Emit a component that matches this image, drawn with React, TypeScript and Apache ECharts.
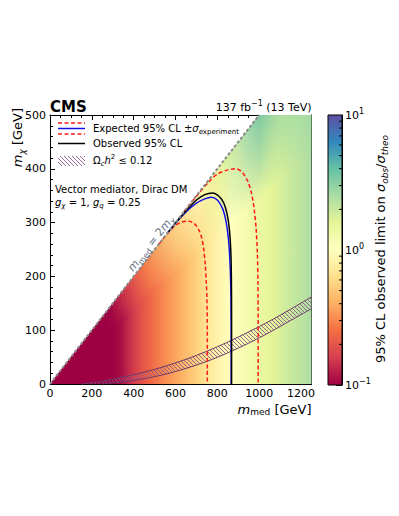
import React, { useEffect, useRef } from 'react';
import * as echarts from 'echarts';

// ---------------- data ----------------
const xMinGeV = 0;
const xMaxGeV = 1250;
const yMinGeV = 0;
const yMaxGeV = 500;
const xMajorStep = 200;
const xMinorStep = 50;
const yMajorStep = 100;
const yMinorStep = 20;

// observed limit (sigma_obs/sigma_theo) read along low m_chi, as function of m_med
const heatMedGeV = [0, 300, 340, 380, 420, 475, 555, 630, 700, 760, 810, 868, 930, 990, 1060, 1120, 1190, 1250];
const heatMuLowMchi = [0.08, 0.1, 0.11, 0.14, 0.175, 0.23, 0.32, 0.42, 0.55, 0.72, 0.85, 1.0, 1.18, 1.38, 1.6, 1.85, 2.15, 2.5];
// limit read close to the kinematic edge m_med = 2 m_chi
const diagMedGeV = [0, 280, 350, 400, 450, 500, 600, 700, 800, 900, 1000, 1100, 1250];
const diagMuNearEdge = [0.08, 0.1, 0.16, 0.22, 0.3, 0.4, 0.68, 1.05, 1.6, 2.4, 4.2, 3.0, 3.0];

const heatRegion = [[0, 0], [1000, 500], [1250, 500], [1250, 0]];
const kinematicEdge = [[0, 0], [1000, 500]];

const observedContour = [
  [560, 280], [600, 299], [650, 322], [700, 342], [740, 352], [778, 355], [805, 350], [830, 337],
  [848, 313], [858, 285], [864, 250], [867, 200], [868, 120], [868, 0],
];
const expectedContour = [
  [560, 280], [600, 299], [650, 320], [700, 336], [740, 344], [770, 347], [800, 342], [825, 326],
  [840, 305], [850, 280], [857, 250], [862, 210], [865, 160], [866, 80], [866, 0],
];
const expectedOuterContour = [
  [640, 320], [700, 349], [760, 376], [800, 390], [850, 398], [890, 400], [920, 393], [945, 377],
  [963, 355], [976, 325], [985, 290], [991, 245], [994, 190], [995, 100], [995, 0],
];
const expectedInnerContour = [
  [520, 260], [560, 279], [600, 295], [630, 301], [660, 303], [690, 298], [712, 286], [725, 272],
  [735, 250], [742, 222], [747, 190], [750, 160], [752, 100], [752, 0],
];
const relicUpperEdge = [
  [150, 0], [250, 5], [350, 13], [450, 22], [550, 33], [650, 46], [750, 61], [850, 78], [950, 97],
  [1050, 117], [1150, 139], [1250, 162],
];
const relicLowerEdge = [
  [250, 0], [350, 4], [450, 10], [550, 18], [650, 29], [750, 42], [850, 58], [950, 76], [1050, 96],
  [1150, 118], [1250, 140],
];

const cbarMin = 0.1;
const cbarMax = 10;
const cbarMinorTicks = [0.2, 0.3, 0.4, 0.5, 0.6, 0.7, 0.8, 0.9, 2, 3, 4, 5, 6, 7, 8, 9];

// ---------------- styling ----------------
const FONT = 'DejaVu Sans';
const SPECTRAL = ['#9e0142', '#d53e4f', '#f46d43', '#fdae61', '#fee08b', '#ffffbf', '#e6f598', '#abdda4', '#66c2a5', '#3288bd', '#5e4fa2'];
const EDGE_BANDS = 20;
const edgeBandFractions = Array.from({ length: EDGE_BANDS }, (_v, k) => 1 - 0.3 * Math.pow(1 - k / EDGE_BANDS, 1.6));

function hexToRgb(h: string) {
  return [parseInt(h.slice(1, 3), 16), parseInt(h.slice(3, 5), 16), parseInt(h.slice(5, 7), 16)];
}
function muToColor(mu: number) {
  const lo = Math.log10(cbarMin);
  const hi = Math.log10(cbarMax);
  const t = Math.min(1, Math.max(0, (Math.log10(mu) - lo) / (hi - lo)));
  const s = t * (SPECTRAL.length - 1);
  const i = Math.min(SPECTRAL.length - 2, Math.floor(s));
  const f = s - i;
  const a = hexToRgb(SPECTRAL[i]);
  const b = hexToRgb(SPECTRAL[i + 1]);
  const c = a.map((v, k) => Math.round(v + (b[k] - v) * f));
  return `rgb(${c[0]},${c[1]},${c[2]})`;
}

const hatchSvg =
  '<svg xmlns="http://www.w3.org/2000/svg" width="4" height="4"><path d="M-1,-1 L5,5 M-1,3 L1,5 M3,-1 L5,1" stroke="#8a588a" stroke-width="0.9"/></svg>';
const hatchPattern: any = {
  image: 'data:image/svg+xml;charset=utf-8,' + encodeURIComponent(hatchSvg),
  repeat: 'repeat',
  imageWidth: 4,
  imageHeight: 4,
};

const rt = (size: number, extra: any = {}) => ({ fontSize: size, fontFamily: FONT, fill: '#000', color: '#000', ...extra });

function textEl(x: number, y: number, text: string, size: number, rich: any, opts: any = {}) {
  const align = opts.align || 'left';
  return {
    type: 'text',
    x,
    y,
    rotation: opts.rotation || 0,
    z: 100,
    style: {
      text,
      fontSize: size,
      fontFamily: FONT,
      fontWeight: opts.bold ? 'bold' : 'normal',
      fill: opts.color || '#000',
      lineHeight: opts.lineHeight || Math.round(size * 1.35),
      align,
      textAlign: align,
      verticalAlign: 'middle',
      textVerticalAlign: 'middle',
      rich,
    },
  };
}

const plotGrid = { left: 50, top: 115, width: 261.5, height: 269 };
const cbarGrid = { left: 328, top: 115, width: 14, height: 270 };

function mkX(gridIndex: number, position: string, interval: number, tickLen: number, showLine: boolean, showLabel: boolean) {
  return {
    gridIndex,
    type: 'value',
    min: xMinGeV,
    max: xMaxGeV,
    interval,
    position,
    axisLine: { show: showLine, onZero: false, lineStyle: { color: '#000', width: 1 } },
    axisTick: { show: true, inside: true, length: tickLen, lineStyle: { color: '#000', width: 1 } },
    axisLabel: {
      show: showLabel,
      margin: 4,
      color: '#000',
      fontSize: 11,
      fontFamily: FONT,
      formatter: (v: number) => (v % xMajorStep === 0 ? String(v) : ''),
    },
    splitLine: { show: false },
  };
}
function mkY(gridIndex: number, position: string, interval: number, tickLen: number, showLine: boolean, showLabel: boolean) {
  return {
    gridIndex,
    type: 'value',
    min: yMinGeV,
    max: yMaxGeV,
    interval,
    position,
    axisLine: { show: showLine, onZero: false, lineStyle: { color: '#000', width: 1 } },
    axisTick: { show: true, inside: true, length: tickLen, lineStyle: { color: '#000', width: 1 } },
    axisLabel: { show: showLabel, margin: 4, color: '#000', fontSize: 11, fontFamily: FONT },
    splitLine: { show: false },
  };
}

function gradientStops(meds: number[], mus: number[]) {
  return meds.map((m, i) => ({ offset: (m - xMinGeV) / (xMaxGeV - xMinGeV), color: muToColor(mus[i]) }));
}

function lineSeries(name: string, data: number[][], color: string, width: number, type: any) {
  return {
    name,
    type: 'line',
    xAxisIndex: 0,
    yAxisIndex: 0,
    data,
    symbol: 'none',
    showSymbol: false,
    smooth: 0.3,
    lineStyle: { color, width, type },
    z: 5,
    silent: true,
  };
}

function buildOption(): any {
  return {
    animation: false,
    backgroundColor: '#fff',
    grid: [plotGrid, plotGrid, plotGrid, plotGrid, cbarGrid],
    xAxis: [
      mkX(0, 'bottom', xMajorStep, 5, true, true),
      mkX(1, 'bottom', xMinorStep, 3, false, false),
      mkX(2, 'top', xMajorStep, 5, true, false),
      mkX(3, 'top', xMinorStep, 3, false, false),
      { gridIndex: 4, type: 'value', min: 0, max: 1, show: false },
    ],
    yAxis: [
      mkY(0, 'left', yMajorStep, 5, true, true),
      mkY(1, 'left', yMinorStep, 3, false, false),
      mkY(2, 'right', yMajorStep, 5, true, false),
      mkY(3, 'right', yMinorStep, 3, false, false),
      {
        gridIndex: 4,
        type: 'log',
        logBase: 10,
        min: cbarMin,
        max: cbarMax,
        position: 'right',
        axisLine: { show: true, onZero: false, lineStyle: { color: '#000', width: 1 } },
        axisTick: { show: true, inside: true, length: 6, lineStyle: { color: '#000' } },
        splitLine: { show: false },
        axisLabel: {
          margin: 3,
          formatter: (v: number) => `{b|10}{s|${Math.round(Math.log10(v)) < 0 ? '−' : ''}${Math.abs(Math.round(Math.log10(v)))}}`,
          rich: {
            b: { fontSize: 11, fontFamily: FONT, color: '#000', lineHeight: 16 },
            s: { fontSize: 8, fontFamily: FONT, color: '#000', lineHeight: 16, verticalAlign: 'top' },
          },
        },
      },
    ],
    series: [
      {
        type: 'custom',
        name: 'limit map',
        xAxisIndex: 0,
        yAxisIndex: 0,
        data: [[0, 0]],
        silent: true,
        z: 1,
        renderItem: (_p: any, api: any) => {
          const x0 = api.coord([xMinGeV, 0])[0];
          const x1 = api.coord([xMaxGeV, 0])[0];
          return {
            type: 'polygon',
            shape: { points: heatRegion.map((p) => api.coord(p)) },
            style: { fill: new echarts.graphic.LinearGradient(x0, 0, x1, 0, gradientStops(heatMedGeV, heatMuLowMchi), true) },
          };
        },
      },
      {
        type: 'custom',
        name: 'limit near edge',
        xAxisIndex: 0,
        yAxisIndex: 0,
        data: edgeBandFractions.map((f) => [0, f]),
        silent: true,
        z: 1,
        renderItem: (params: any, api: any) => {
          const f = edgeBandFractions[params.dataIndex];
          const pts: number[][] = [[0, 0], [1000, 500]];
          if (f <= 0.8) {
            pts.push([1250, 500], [1250, 625 * f]);
          } else {
            pts.push([1000 / f, 500]);
          }
          const x0 = api.coord([xMinGeV, 0])[0];
          const x1 = api.coord([xMaxGeV, 0])[0];
          return {
            type: 'polygon',
            shape: { points: pts.map((p) => api.coord(p)) },
            style: {
              fill: new echarts.graphic.LinearGradient(x0, 0, x1, 0, gradientStops(diagMedGeV, diagMuNearEdge), true),
              opacity: 0.08,
            },
          };
        },
      },
      {
        type: 'custom',
        name: 'relic band',
        xAxisIndex: 0,
        yAxisIndex: 0,
        data: [[0, 0]],
        silent: true,
        z: 3,
        renderItem: (_p: any, api: any) => ({
          type: 'polygon',
          shape: { points: relicUpperEdge.concat(relicLowerEdge.slice().reverse()).map((p) => api.coord(p)) },
          style: { fill: hatchPattern, stroke: 'none' },
        }),
      },
      lineSeries('relic upper', relicUpperEdge, '#6b3c6b', 1, 'solid'),
      lineSeries('relic lower', relicLowerEdge, '#6b3c6b', 1, 'solid'),
      lineSeries('expected +1σ', expectedOuterContour, '#ff1a1a', 1.5, [4, 2.5]),
      lineSeries('expected −1σ', expectedInnerContour, '#ff1a1a', 1.5, [4, 2.5]),
      lineSeries('expected', expectedContour, '#1010ee', 1.5, 'solid'),
      lineSeries('observed', observedContour, '#000000', 1.5, 'solid'),
      {
        ...lineSeries('kinematic edge', kinematicEdge, '#8a8a8a', 2, [3, 2]),
        smooth: false,
        z: 6,
      },
      {
        type: 'custom',
        name: 'colorbar',
        xAxisIndex: 4,
        yAxisIndex: 4,
        data: [[0, 1]],
        silent: true,
        renderItem: (_p: any, api: any) => {
          const tl = api.coord([0, cbarMax]);
          const br = api.coord([1, cbarMin]);
          return {
            type: 'rect',
            shape: { x: tl[0], y: tl[1], width: br[0] - tl[0], height: br[1] - tl[1] },
            style: {
              fill: new echarts.graphic.LinearGradient(
                0, 0, 0, 1,
                SPECTRAL.map((_c, i) => ({ offset: i / (SPECTRAL.length - 1), color: SPECTRAL[SPECTRAL.length - 1 - i] })),
              ),
              stroke: '#000',
              lineWidth: 1,
            },
          };
        },
      },
      {
        type: 'custom',
        name: 'colorbar minor ticks',
        xAxisIndex: 4,
        yAxisIndex: 4,
        data: cbarMinorTicks.map((v) => [1, v]),
        silent: true,
        z: 4,
        renderItem: (_p: any, api: any) => {
          const p = api.coord([1, api.value(1)]);
          return {
            type: 'line',
            shape: { x1: p[0] - 3, y1: p[1], x2: p[0], y2: p[1] },
            style: { stroke: '#000', lineWidth: 1 },
          };
        },
      },
    ],
    graphic: [
      textEl(50, 106.5, 'CMS', 15, {}, { bold: true }),
      textEl(311.5, 107, '137 fb{sup|−1} (13 TeV)', 11, { sup: rt(8, { verticalAlign: 'top' }) }, { align: 'right', lineHeight: 15 }),
      textEl(17, 108, '{i|m}{s|χ} [GeV]', 13, {
        i: rt(13, { fontStyle: 'italic' }),
        s: rt(9, { fontStyle: 'italic', verticalAlign: 'bottom' }),
      }, { align: 'right', rotation: Math.PI / 2, lineHeight: 18 }),
      textEl(311.5, 409, '{i|m}{s|med} [GeV]', 13, {
        i: rt(13, { fontStyle: 'italic' }),
        s: rt(9, { verticalAlign: 'bottom' }),
      }, { align: 'right', lineHeight: 15 }),
      textEl(380, 249, '95% CL observed limit on {i|σ}{s|obs}/{i|σ}{s|theo}', 13, {
        i: rt(13, { fontStyle: 'italic' }),
        s: rt(9, { fontStyle: 'italic', verticalAlign: 'bottom' }),
      }, { align: 'center', rotation: Math.PI / 2, lineHeight: 18 }),
      textEl(151, 243.5, '{i|m}{s|med} = 2{i|m}{is|χ}', 11, {
        i: rt(11, { fontStyle: 'italic', fill: '#5f6f80' }),
        s: rt(8, { verticalAlign: 'bottom', fill: '#5f6f80' }),
        is: rt(8, { fontStyle: 'italic', verticalAlign: 'bottom', fill: '#5f6f80' }),
      }, { align: 'center', rotation: (52 * Math.PI) / 180, color: '#5f6f80', lineHeight: 15 }),
      // legend symbols
      { type: 'line', z: 100, shape: { x1: 58, y1: 123, x2: 85, y2: 123 }, style: { stroke: '#ff1a1a', lineWidth: 1.5, lineDash: [4, 2.5] } },
      { type: 'line', z: 100, shape: { x1: 58, y1: 128.5, x2: 85, y2: 128.5 }, style: { stroke: '#1010ee', lineWidth: 1.5 } },
      { type: 'line', z: 100, shape: { x1: 58, y1: 134, x2: 85, y2: 134 }, style: { stroke: '#ff1a1a', lineWidth: 1.5, lineDash: [4, 2.5] } },
      { type: 'line', z: 100, shape: { x1: 58, y1: 143.5, x2: 85, y2: 143.5 }, style: { stroke: '#000', lineWidth: 1.5 } },
      { type: 'rect', z: 100, shape: { x: 58, y: 156, width: 27, height: 10 }, style: { fill: hatchPattern } },
      textEl(93, 128.5, 'Expected 95% CL ±{i|σ}{s|experiment}', 10, {
        i: rt(10, { fontStyle: 'italic' }),
        s: rt(7, { verticalAlign: 'bottom' }),
      }, { lineHeight: 14 }),
      textEl(93, 143.5, 'Observed 95% CL', 10, {}, {}),
      textEl(93, 160, '{u|Ω}{is|c}{i|h}{sup|2} ≤ 0.12', 10, {
        u: rt(10),
        i: rt(10, { fontStyle: 'italic' }),
        is: rt(7, { fontStyle: 'italic', verticalAlign: 'bottom' }),
        sup: rt(7, { verticalAlign: 'top' }),
      }, { lineHeight: 14 }),
      textEl(55, 189.5, 'Vector mediator, Dirac DM', 10, {}, {}),
      textEl(55, 202, '{i|g}{is|χ} = 1, {i|g}{is|q} = 0.25', 10, {
        i: rt(10, { fontStyle: 'italic' }),
        is: rt(7, { fontStyle: 'italic', verticalAlign: 'bottom' }),
      }, { lineHeight: 14 }),
    ],
  };
}

export default function App() {
  const ref = useRef<HTMLDivElement>(null);
  useEffect(() => {
    if (!ref.current) return;
    const chart = echarts.init(ref.current, null, { renderer: 'svg' });
    chart.setOption(buildOption());
    return () => chart.dispose();
  }, []);
  return <div ref={ref} style={{ position: 'absolute', left: 0, top: 0, width: 399, height: 516 }} />;
}
